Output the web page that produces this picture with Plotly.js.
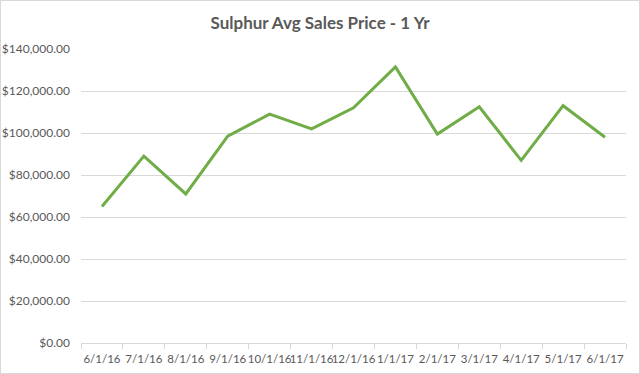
<!DOCTYPE html>
<html>
<head>
<meta charset="utf-8">
<script src="https://cdn.plot.ly/plotly-3.0.1.min.js"></script>
<style>
  html, body { margin: 0; padding: 0; background: #fff; }
  #wrap { position: relative; width: 640px; height: 374px; }
  #chart { width: 640px; height: 374px; }
  #frame { position: absolute; left: 0; top: 0; width: 640px; height: 374px; box-sizing: border-box; border: 1px solid #d9d9d9; pointer-events: none; }
</style>
</head>
<body>
<div id="wrap">
  <div id="chart"></div>
  <div id="frame"></div>
</div>
<script>
const categories = ["6/1/16","7/1/16","8/1/16","9/1/16","10/1/16","11/1/16","12/1/16","1/1/17","2/1/17","3/1/17","4/1/17","5/1/17","6/1/17"];
const avgPrice = [65000, 89000, 71000, 98500, 109000, 102000, 112000, 131500, 99500, 112500, 87000, 113000, 98000];
const yTickVals = [0, 20000, 40000, 60000, 80000, 100000, 120000, 140000];
const yTickText = ["$0.00", "$20,000.00", "$40,000.00", "$60,000.00", "$80,000.00", "$100,000.00", "$120,000.00", "$140,000.00"];
const chartTitle = "Sulphur Avg Sales Price - 1 Yr";

const font = "Lato, 'Open Sans', 'Liberation Sans', sans-serif";

Plotly.newPlot("chart", [{
  type: "scatter",
  mode: "lines",
  x: categories,
  y: avgPrice,
  line: { color: "#70ad47", width: 3 },
  hoverinfo: "x+y"
}], {
  width: 640,
  height: 374,
  paper_bgcolor: "#ffffff",
  plot_bgcolor: "#ffffff",
  margin: { l: 81, r: 14, t: 49, b: 31, pad: 0 },
  showlegend: false,
  title: {
    text: chartTitle,
    x: 0.5,
    xanchor: "center",
    y: 0.938,
    yanchor: "middle",
    font: { family: font, size: 17, color: "#595959", weight: "bold" }
  },
  xaxis: {
    type: "category",
    range: [-0.5, 12.5],
    tickson: "boundaries",
    ticks: "outside",
    ticklen: 5,
    tickcolor: "#d9d9d9",
    tickangle: 0,
    ticklabelstandoff: 5,
    showline: true,
    linecolor: "#d9d9d9",
    linewidth: 1,
    showgrid: false,
    tickfont: { family: font, size: 11.5, color: "#595959" },
    fixedrange: true
  },
  yaxis: {
    range: [0, 140000],
    tickvals: yTickVals,
    ticktext: yTickText,
    showgrid: true,
    gridcolor: "#d9d9d9",
    gridwidth: 1,
    zeroline: false,
    showline: false,
    ticks: "",
    ticklabelstandoff: 10,
    tickfont: { family: font, size: 12, color: "#595959" },
    fixedrange: true
  }
}, { displayModeBar: false, staticPlot: true });
</script>
</body>
</html>
